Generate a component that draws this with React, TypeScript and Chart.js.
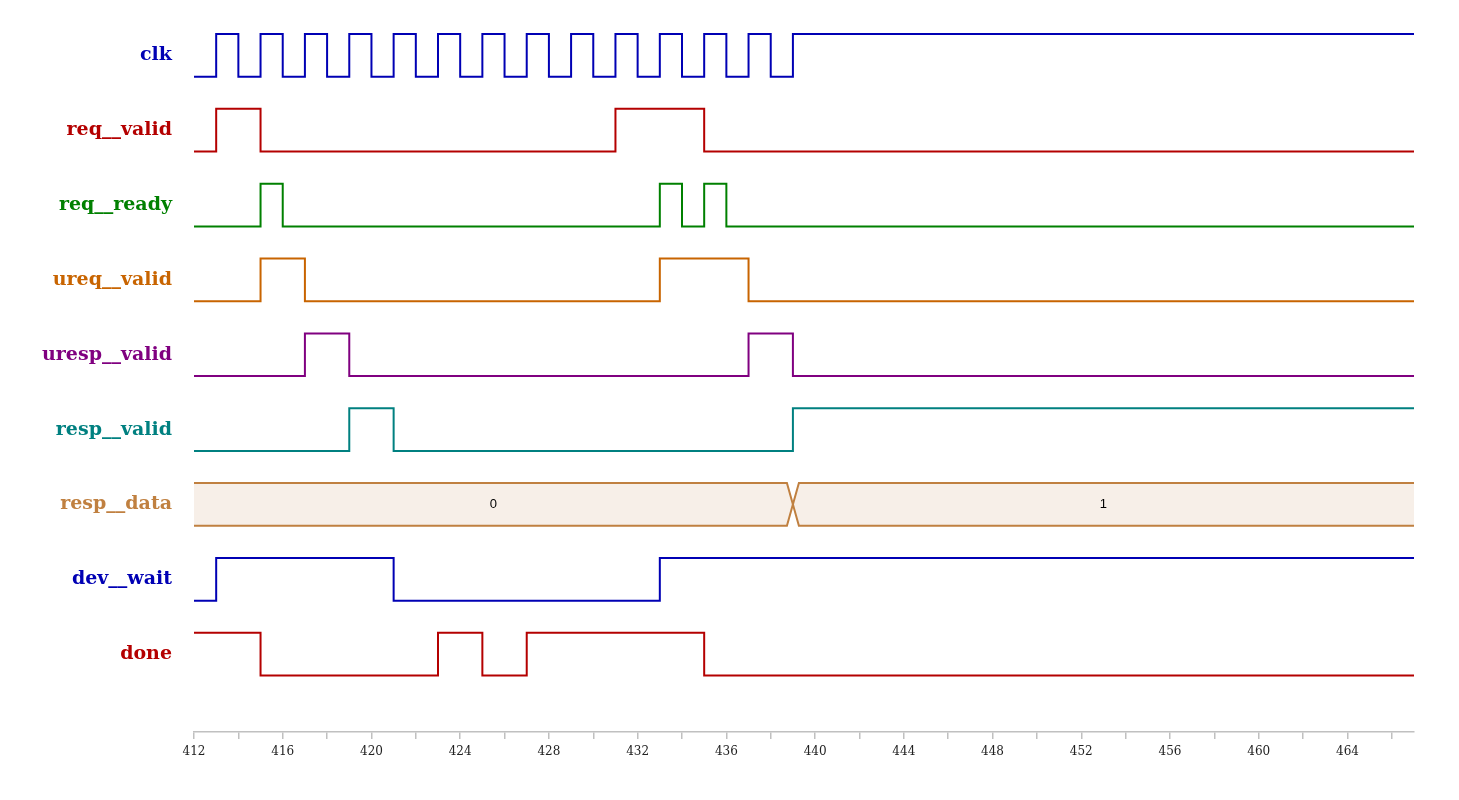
import React, { useRef, useEffect } from 'react';
import { Chart, registerables } from 'chart.js';

Chart.register(...registerables);

// time range of the trace
const tStart = 412;
const tEnd = 467;

// signal names (top to bottom) and colours
const signalNames = ['clk', 'req__valid', 'req__ready', 'ureq__valid', 'uresp__valid', 'resp__valid', 'resp__data', 'dev__wait', 'done'];
const signalColors = ['#0000b4', '#b40000', '#008000', '#c86400', '#800080', '#008080', '#c08040', '#0000b4', '#b40000'];

// binary signals: start level + times where the level toggles
const clkInit = 0;
const clkToggles = [413, 414, 415, 416, 417, 418, 419, 420, 421, 422, 423, 424, 425, 426, 427, 428, 429, 430, 431, 432, 433, 434, 435, 436, 437, 438, 439];
const reqValidInit = 0;
const reqValidToggles = [413, 415, 431, 435];
const reqReadyInit = 0;
const reqReadyToggles = [415, 416, 433, 434, 435, 436];
const ureqValidInit = 0;
const ureqValidToggles = [415, 417, 433, 437];
const urespValidInit = 0;
const urespValidToggles = [417, 419, 437, 439];
const respValidInit = 0;
const respValidToggles = [419, 421, 439];
const devWaitInit = 0;
const devWaitToggles = [413, 421, 433];
const doneInit = 1;
const doneToggles = [415, 423, 425, 427, 435];

// bus signal resp_data
const respDataValues = ['0', '1'];
const respDataChanges = [439];

// x-axis ticks
const tickStep = 2;
const labelStep = 4;

const busRow = 6;

const App: React.FC = () => {
    const chartRef = useRef<HTMLCanvasElement | null>(null);

    useEffect(() => {
        if (!chartRef.current) return;

        const pitch = 74.85;
        const hi = 42.7 / pitch;
        const rowLow = (i: number) => (732 - 76.7 - pitch * i) / pitch;
        const rowMid = (i: number) => rowLow(i) + hi / 2;
        const xw = 0.27; // half-width of bus crossing

        const wave = (init: number, toggles: number[], row: number) => {
            const pts: { x: number; y: number }[] = [];
            let v = init;
            const lvl = (b: number) => rowLow(row) + b * hi;
            pts.push({ x: tStart, y: lvl(v) });
            toggles.forEach(t => {
                pts.push({ x: t, y: lvl(v) });
                v = 1 - v;
                pts.push({ x: t, y: lvl(v) });
            });
            pts.push({ x: tEnd, y: lvl(v) });
            return pts;
        };

        const binary: [number, number[]][] = [
            [clkInit, clkToggles],
            [reqValidInit, reqValidToggles],
            [reqReadyInit, reqReadyToggles],
            [ureqValidInit, ureqValidToggles],
            [urespValidInit, urespValidToggles],
            [respValidInit, respValidToggles],
            [0, []],
            [devWaitInit, devWaitToggles],
            [doneInit, doneToggles],
        ];

        const datasets: any[] = [];

        // bus fill + outline
        const bLo = rowLow(busRow);
        const bHi = bLo + hi;
        const bMid = bLo + hi / 2;
        const fillPts: { x: number; y: number }[] = [{ x: tStart, y: bHi }];
        respDataChanges.forEach(t => {
            fillPts.push({ x: t - xw, y: bHi }, { x: t, y: bMid }, { x: t + xw, y: bHi });
        });
        fillPts.push({ x: tEnd, y: bHi }, { x: tEnd, y: bLo });
        [...respDataChanges].reverse().forEach(t => {
            fillPts.push({ x: t + xw, y: bLo }, { x: t, y: bMid }, { x: t - xw, y: bLo });
        });
        fillPts.push({ x: tStart, y: bLo });
        datasets.push({
            data: fillPts,
            borderWidth: 0,
            borderColor: 'rgba(0,0,0,0)',
            backgroundColor: '#f7efe8',
            fill: 'shape',
            order: 10,
        });
        const topLine: { x: number; y: number }[] = [{ x: tStart, y: bHi }];
        const botLine: { x: number; y: number }[] = [{ x: tStart, y: bLo }];
        let up = true;
        respDataChanges.forEach(t => {
            topLine.push({ x: t - xw, y: up ? bHi : bLo }, { x: t + xw, y: up ? bLo : bHi });
            botLine.push({ x: t - xw, y: up ? bLo : bHi }, { x: t + xw, y: up ? bHi : bLo });
            up = !up;
        });
        topLine.push({ x: tEnd, y: up ? bHi : bLo });
        botLine.push({ x: tEnd, y: up ? bLo : bHi });
        [topLine, botLine].forEach(d => datasets.push({
            data: d,
            borderColor: signalColors[busRow],
            borderWidth: 2,
            fill: false,
            order: 0,
        }));

        binary.forEach(([init, toggles], row) => {
            if (row === busRow) return;
            datasets.push({
                data: wave(init, toggles, row),
                borderColor: signalColors[row],
                borderWidth: 2,
                fill: false,
                order: 0,
            });
        });

        const busText = {
            id: 'busText',
            afterDatasetsDraw(chart: any) {
                const { ctx, scales } = chart;
                const bounds = [tStart, ...respDataChanges, tEnd];
                ctx.save();
                ctx.font = '13px "Liberation Sans", Arial, sans-serif';
                ctx.fillStyle = '#000';
                ctx.textAlign = 'center';
                ctx.textBaseline = 'middle';
                respDataValues.forEach((v, i) => {
                    const x = scales.x.getPixelForValue((bounds[i] + bounds[i + 1]) / 2);
                    const y = scales.y.getPixelForValue(bMid);
                    ctx.fillText(v, x, y);
                });
                ctx.restore();
            },
        };

        const chartInstance = new Chart(chartRef.current, {
            type: 'line',
            data: { datasets },
            plugins: [busText],
            options: {
                animation: false,
                responsive: true,
                maintainAspectRatio: false,
                layout: { padding: { top: 20, right: 45, left: 0, bottom: 0 } },
                elements: { point: { radius: 0 }, line: { tension: 0, borderCapStyle: 'butt' } },
                plugins: { legend: { display: false }, tooltip: { enabled: false } },
                scales: {
                    x: {
                        type: 'linear',
                        min: tStart,
                        max: tEnd,
                        afterFit: (s: any) => { s.height = 68; },
                        border: { color: '#c0c0c0', width: 1.5 },
                        grid: { drawOnChartArea: false, drawTicks: true, tickLength: 7, color: '#c0c0c0', lineWidth: 1.5 },
                        ticks: {
                            stepSize: tickStep,
                            includeBounds: false,
                            autoSkip: false,
                            maxRotation: 0,
                            padding: 6,
                            color: '#222',
                            font: { family: '"DejaVu Serif", serif', size: 12 },
                            callback: (v: any) => (Number(v) % labelStep === 0 ? String(v) : ''),
                        },
                    },
                    y: {
                        type: 'linear',
                        min: 0,
                        max: 712 / pitch,
                        afterFit: (s: any) => { s.width = 194; },
                        afterBuildTicks: (s: any) => { s.ticks = signalNames.map((_, i) => ({ value: rowMid(i) })); },
                        border: { display: false },
                        grid: { display: false, drawTicks: true, tickLength: 22 },
                        ticks: {
                            padding: 0,
                            autoSkip: false,
                            color: (c: any) => signalColors[c.index],
                            font: { family: '"DejaVu Serif", serif', size: 19, weight: 'bold' },
                            callback: (_v: any, i: number) => signalNames[i],
                        },
                    },
                },
            },
        } as any);

        return () => {
            chartInstance.destroy();
        };
    }, []);

    return (
        <div style={{ position: 'absolute', left: 0, top: 0, width: 1459, height: 800 }}>
            <canvas ref={chartRef}></canvas>
        </div>
    );
};

export default App;
